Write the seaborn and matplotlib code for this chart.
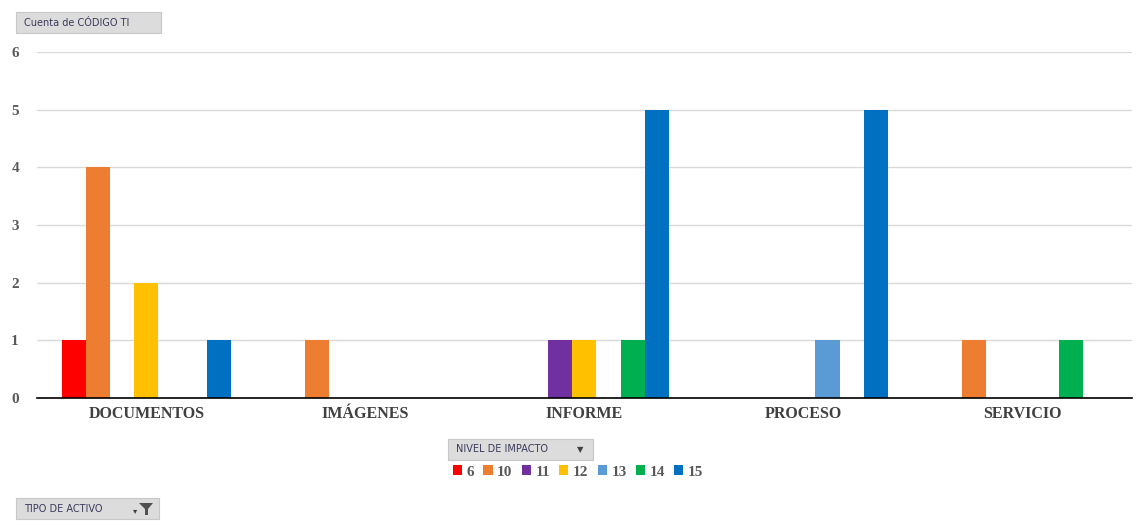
import matplotlib
matplotlib.use("Agg")
import matplotlib.pyplot as plt
import matplotlib.patches as mpatches
import seaborn as sns
import pandas as pd

# Pivot counts: asset type x impact level
categories = ["DOCUMENTOS", "IMÁGENES", "INFORME", "PROCESO", "SERVICIO"]
levels = ["6", "10", "11", "12", "13", "14", "15"]
row_tipo = ["DOCUMENTOS", "DOCUMENTOS", "DOCUMENTOS", "DOCUMENTOS",
            "IMÁGENES",
            "INFORME", "INFORME", "INFORME", "INFORME",
            "PROCESO", "PROCESO",
            "SERVICIO", "SERVICIO"]
row_nivel = ["6", "10", "12", "15",
             "10",
             "11", "12", "14", "15",
             "13", "15",
             "10", "14"]
row_count = [1, 4, 2, 1,
             1,
             1, 1, 1, 5,
             1, 5,
             1, 1]
palette = ["#FF0000", "#ED7D31", "#7030A0", "#FFC000", "#5B9BD5", "#00B050", "#0070C0"]
y_ticks = [0, 1, 2, 3, 4, 5, 6]

df = pd.DataFrame({"tipo": row_tipo, "nivel": row_nivel, "cuenta": row_count})

sns.set_style("white")
fig = plt.figure(figsize=(11.37, 5.24), dpi=100)
ax = fig.add_axes([0.0325, 0.2405, 0.963, 0.6603])

sns.barplot(data=df, x="tipo", y="cuenta", hue="nivel", order=categories,
            hue_order=levels, palette=palette, width=0.77, saturation=1,
            linewidth=0, legend=False, ax=ax)

serif = "Liberation Serif"
ax.set_ylim(0, 6)
ax.set_xlim(-0.5, len(categories) - 0.5)
ax.set_yticks(y_ticks)
ax.set_yticklabels([str(v) for v in y_ticks], fontfamily=serif, fontweight="bold",
                   fontsize=11, color="#595959")
ax.set_xticks(range(len(categories)))
ax.set_xticklabels(categories, fontfamily=serif, fontweight="bold", fontsize=11.5,
                   color="#404040")
ax.tick_params(axis="y", length=0, pad=13)
ax.tick_params(axis="x", length=0, pad=6)
ax.set_xlabel("")
ax.set_ylabel("")
ax.grid(axis="y", color="#d9d9d9", linewidth=1)
ax.set_axisbelow(True)
for side in ["top", "right", "left"]:
    ax.spines[side].set_visible(False)
ax.spines["bottom"].set_color("#000000")
ax.spines["bottom"].set_linewidth(1.2)

W, H = 1137, 524


def field_button(x0, y0, w, h, label):
    rect = mpatches.Rectangle((x0 / W, 1 - (y0 + h) / H), w / W, h / H,
                              transform=fig.transFigure, facecolor="#dcdcdc",
                              edgecolor="#c8c8c8", linewidth=0.8)
    fig.patches.append(rect)
    fig.text((x0 + 8) / W, 1 - (y0 + h / 2) / H, label, fontsize=7,
             fontfamily="DejaVu Sans", color="#3a3a5a", va="center", ha="left")


field_button(16, 12, 145, 21, "Cuenta de CÓDIGO TI")
field_button(448, 439, 145, 21, "NIVEL DE IMPACTO")
fig.text(580 / W, 1 - 449.5 / H, "▼", fontsize=6, color="#404040",
         ha="center", va="center")
field_button(16, 498, 143, 21, "TIPO DE ACTIVO")
# funnel glyph with small drop arrow
funnel = mpatches.Polygon([(139 / W, 1 - 503 / H), (153 / W, 1 - 503 / H),
                           (148 / W, 1 - 509 / H), (148 / W, 1 - 515 / H),
                           (145 / W, 1 - 515 / H), (145 / W, 1 - 509 / H)],
                          closed=True, transform=fig.transFigure,
                          facecolor="#505050", edgecolor="none")
fig.patches.append(funnel)
fig.text(135 / W, 1 - 511 / H, "▾", fontsize=6, color="#404040",
         ha="center", va="center")

handles = [mpatches.Patch(facecolor=c, edgecolor="none") for c in palette]
leg = fig.legend(handles, levels, loc="center", bbox_to_anchor=(578 / W, 1 - 472 / H),
                 ncol=len(levels), frameon=False, handlelength=0.6, handleheight=0.6,
                 handletextpad=0.3, columnspacing=0.6,
                 prop={"family": serif, "weight": "bold", "size": 11})
for t in leg.get_texts():
    t.set_color("#595959")

fig.savefig("out.png", dpi=100, facecolor="white")
